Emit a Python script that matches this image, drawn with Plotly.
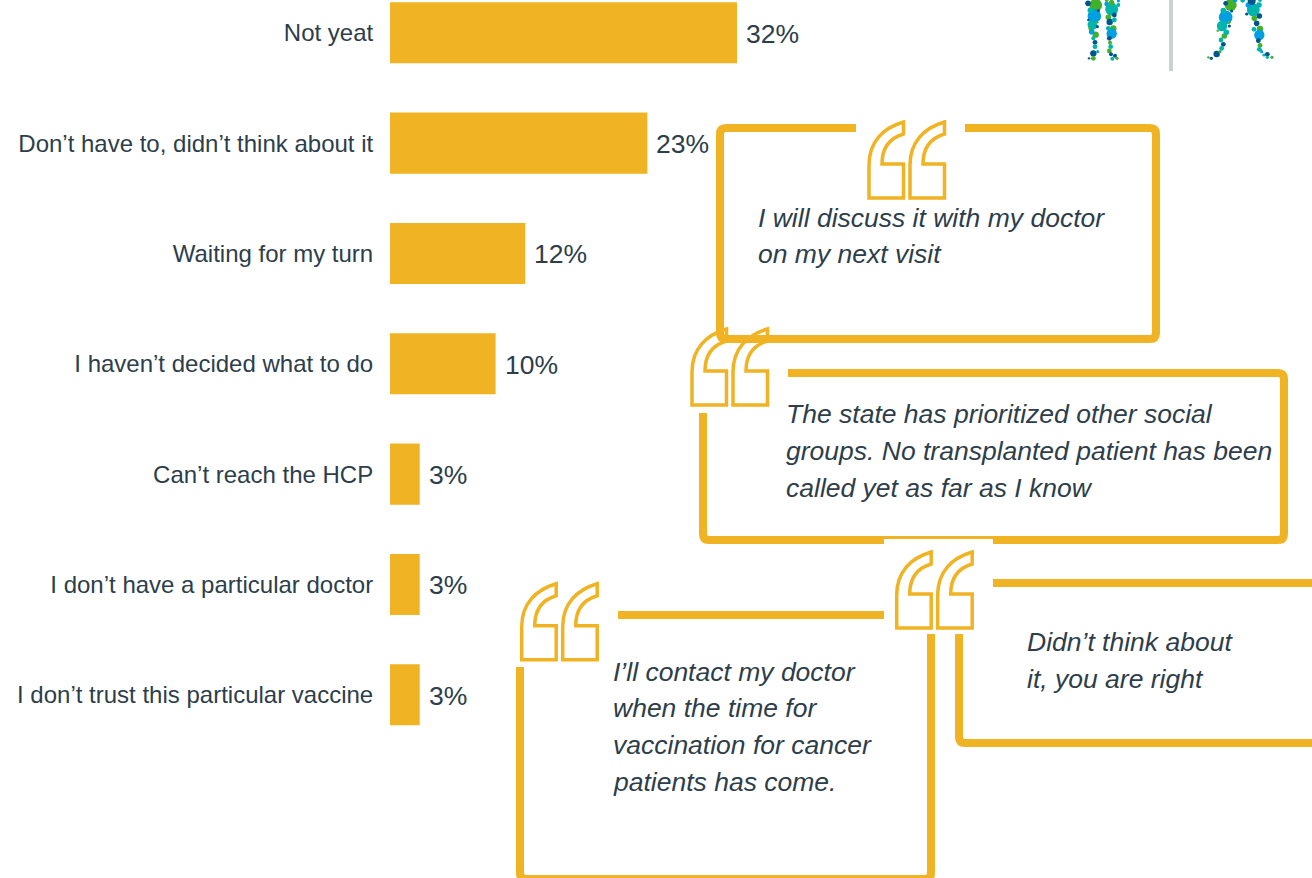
import plotly.graph_objects as go

W, H = 1312, 878
BAR = "#F0B323"
INK = "#2D3E4A"
FONT = "Liberation Sans, Arial, sans-serif"

categories = ["Not yeat", "Don’t have to, didn’t think about it", "Waiting for my turn",
              "I haven’t decided what to do", "Can’t reach the HCP",
              "I don’t have a particular doctor", "I don’t trust this particular vaccine"]
values = [31.55, 23.4, 12.3, 9.6, 2.7, 2.7, 2.7]
value_labels = ["32%", "23%", "12%", "10%", "3%", "3%", "3%"]

quotes = [
    (756, [(218, "I will discuss it with my doctor"), (254, "on my next visit")]),
    (784, [(414, "The state has prioritized other social"),
           (451, "groups. No transplanted patient has been"),
           (488, "called yet as far as I know")]),
    (611, [(672, "I’ll contact my doctor"), (708, "when the time for"),
           (745, "vaccination for cancer"), (782, "patients has come.")]),
    (1025, [(642, "Didn’t think about"), (679, "it, you are right")]),
]

G, B, T, D = "#43B02A", "#009FE3", "#00B5AD", "#00558C"
# figure-icon dots: x, y, radius in a 3x crop whose origin is (1060, 0)
dots = [
 (107,16,16,G),(103,48,17,B),(91,31,7,T),(97,75,12,T),(84,10,7,D),(107,104,8,G),(95,95,7,B),(105,127,6,D),
 (100,115,5,T),(105,140,6,T),(100,160,8,D),(100,175,6,G),(87,175,3,D),(113,155,4,T),(112,80,4,D),(90,86,4,G),
 (112,67,3,G),(115,32,4,D),(85,60,3,D),(155,28,16,T),(163,45,6,D),(145,52,7,G),(149,66,8,D),(163,60,6,T),
 (160,85,8,G),(145,85,6,T),(155,101,13,B),(148,115,6,D),(150,128,5,G),(152,140,6,T),(148,153,6,G),(153,163,5,D),
 (165,167,5,D),(157,176,5,T),(171,175,4,G),(140,12,6,B),(155,8,7,G),(175,15,5,T),(140,0,5,G),(175,3,4,B),
 (512,15,15,G),(497,52,17,B),(486,78,13,T),(490,32,7,T),(493,108,7,G),(499,97,7,T),(483,120,6,T),(490,133,6,D),
 (485,145,6,T),(470,162,8,D),(454,175,4,D),(445,172,3,G),(480,155,4,G),(497,10,6,D),(525,0,6,B),(515,33,4,D),
 (508,78,4,D),(507,67,4,G),(473,92,3,G),(580,30,16,T),(565,15,7,B),(597,15,7,T),(598,48,7,D),(583,55,7,G),
 (590,70,7,D),(600,87,8,G),(582,88,6,T),(598,105,13,B),(595,122,6,D),(600,136,6,G),(598,148,6,T),(605,155,4,B),
 (612,165,4,T),(622,163,6,D),(622,172,4,T),(636,172,4,G),(575,3,10,D),(548,1,6,T),(600,0,5,T),(560,42,4,D),
]

fig = go.Figure()
fig.add_bar(x=values, y=categories, orientation="h", marker=dict(color=BAR, line=dict(width=0)),
            xaxis="x", yaxis="y", hoverinfo="skip")
fig.add_scatter(x=[1060 + d[0] / 3 for d in dots], y=[d[1] / 3 for d in dots], mode="markers",
                marker=dict(size=[d[2] * 0.8 for d in dots], color=[d[3] for d in dots], opacity=1, line=dict(width=0)),
                xaxis="x2", yaxis="y2", hoverinfo="skip")

shapes = []
def path(d, width=8, color=BAR, fill=None):
    shapes.append(dict(type="path", path=d, xref="x2", yref="y2", layer="above",
                       line=dict(color=color, width=width),
                       fillcolor=fill or "rgba(0,0,0,0)"))

# callout frames
path("M856,128 H726 Q720,128 720,134 V333 Q720,339 726,339 H1150 Q1156,339 1156,333 V134 Q1156,128 1150,128 H965")
path("M788,373 H1278 Q1284,373 1284,379 V534 Q1284,540 1278,540 H709 Q703,540 703,534 V413")
shapes.append(dict(type="rect", xref="x2", yref="y2", x0=884, x1=993, y0=539, y1=575, layer="above",
                   fillcolor="white", line=dict(width=0)))
path("M993,583 H1330 M959,634 V737 Q959,743 965,743 H1330")
path("M618,615 H884 M520,667 V873 Q520,879 526,879 H925 Q931,879 931,873 V634")
path("M1171,0 V71", width=4, color="#CDD1D4")

def glyph(x0, y0):
    return (f"M{x0+35.5},{y0+2} C{x0+15},{y0+8} {x0+1},{y0+22} {x0+1},{y0+45} V{y0+78} H{x0+35.5} V{y0+44} "
            f"H{x0+14} C{x0+14},{y0+28} {x0+22},{y0+18} {x0+35.5},{y0+14} Z")
for gx, gy in [(868, 120), (691, 327), (520.7, 581.7), (895.7, 550)]:
    path(glyph(gx, gy), width=3.5)
    path(glyph(gx + 41, gy), width=3.5)

ann = []
for c, v, t in zip(categories, values, value_labels):
    ann.append(dict(x=v, y=c, xref="x", yref="y", text=t, showarrow=False, xanchor="left", yanchor="middle",
                    xshift=7, yshift=-1, font=dict(family=FONT, size=26.5, color=INK)))
for x0, lines in quotes:
    for y0, s in lines:
        ann.append(dict(x=x0, y=y0, xref="x2", yref="y2", text=f"<i>{s}</i>", showarrow=False, xanchor="left",
                        yanchor="middle", font=dict(family=FONT, size=26.5, color=INK)))

fig.update_layout(
    width=W, height=H, margin=dict(l=0, r=0, t=0, b=0), showlegend=False, bargap=0.447,
    paper_bgcolor="white", plot_bgcolor="rgba(0,0,0,0)", font=dict(family=FONT, color=INK),
    xaxis=dict(domain=[390 / W, 1], range=[0, (W - 390) / 11], visible=False, fixedrange=True),
    yaxis=dict(type="category", categoryorder="array", categoryarray=categories,
               range=[(H - 32.8) / 110.33, -32.8 / 110.33], showline=False, showgrid=False, zeroline=False,
               ticks="outside", ticklen=11, tickcolor="rgba(0,0,0,0)", tickwidth=1,
               tickfont=dict(family=FONT, size=24, color=INK), automargin=False),
    xaxis2=dict(domain=[0, 1], range=[0, W], visible=False, anchor="y2", fixedrange=True),
    yaxis2=dict(domain=[0, 1], range=[H, 0], visible=False, anchor="x2", fixedrange=True),
    shapes=shapes, annotations=ann,
)
fig.write_html("out.html", config=dict(displayModeBar=False),
               post_script="document.body.style.margin='0';document.body.style.overflow='hidden';")
